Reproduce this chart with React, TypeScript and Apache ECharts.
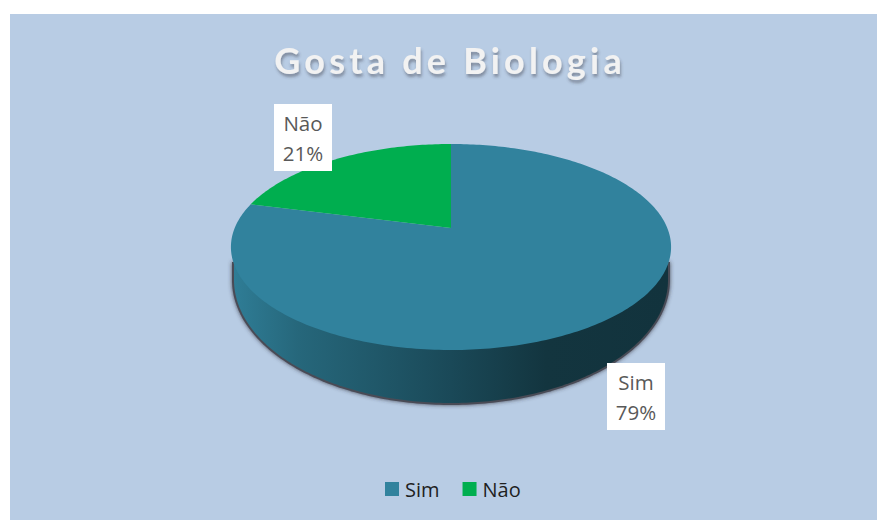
import React, { useEffect, useRef } from "react";
import * as echarts from "echarts";

const chartTitle = "Gosta de Biologia";
const categories = ["Sim", "Não"];
const values = [79, 21];
const colors = ["#31829D", "#00AE4F"];

const W = 877;
const H = 520;
const total = values.reduce((a, b) => a + b, 0);
const PAGE = { x: 10, y: 14 };

// Perspective disk: maps a point of the unit circle to the picture
const CX = 451;
const CY = 228;
const AX = 216.3;
const BY = 99.5;
const K = 0.1845;
const project = (angle: number): [number, number] => {
  const u = Math.sin(angle);
  const v = Math.cos(angle);
  const w = 1 + K * v;
  return [CX + (AX * u) / w, CY - (BY * v) / w];
};
const sliceOutline = (startFrac: number, endFrac: number) => {
  const steps = Math.max(8, Math.ceil((endFrac - startFrac) * 360));
  const pts: number[][] = [[CX, CY]];
  for (let i = 0; i <= steps; i++) {
    const f = startFrac + ((endFrac - startFrac) * i) / steps;
    pts.push(project(f * Math.PI * 2));
  }
  return pts;
};

// Lower rim of the disk's side wall
const rim = (a: number, b: number, cy: number, topY: number) => {
  const pts: number[][] = [[CX - a, topY]];
  for (let d = 180; d >= 0; d -= 1) {
    const t = (d * Math.PI) / 180;
    pts.push([CX + a * Math.cos(t), cy + b * Math.sin(t)]);
  }
  pts.push([CX + a, topY]);
  return pts;
};

const sideFill = new echarts.graphic.LinearGradient(
  233, 0, 668, 0,
  [
    { offset: 0, color: "#2F7D96" },
    { offset: 0.15, color: "#26677B" },
    { offset: 0.5, color: "#1A4958" },
    { offset: 0.72, color: "#13353F" },
    { offset: 1, color: "#12333D" },
  ],
  true
);

const labelAnchors = [
  { x: 636, y: 396.5 },
  { x: 303, y: 137.5 },
];

const labelFor = (i: number, value: number) => ({
  type: "text",
  z2: 10,
  style: {
    x: labelAnchors[i].x,
    y: labelAnchors[i].y,
    text: `${categories[i]}\n${Math.round((value / total) * 100)}%`,
    align: "center",
    verticalAlign: "middle",
    fontFamily: "'Open Sans'",
    fontSize: 20.5,
    lineHeight: 30,
    fill: "#595959",
    backgroundColor: "#FFFFFF",
    width: 58,
    height: 60,
    padding: [3.5, 0, 3.5, 0],
  },
});

const seriesFor = (i: number) => {
  const startFrac = values.slice(0, i).reduce((a, b) => a + b, 0) / total;
  return {
    type: "custom",
    name: categories[i],
    coordinateSystem: "none",
    silent: true,
    z: i === 0 ? 2 : 3,
    itemStyle: { color: colors[i] },
    data: [[values[i]]],
    renderItem: (_p: any, api: any) => {
      const value = api.value(0);
      const children: any[] = [];
      if (i === 0) {
        children.push({
          type: "polygon",
          shape: { points: rim(219, 125, 280, 262) },
          style: { fill: "#4A4B57", shadowBlur: 4, shadowColor: "rgba(50,50,60,0.85)" },
        });
        children.push({
          type: "polygon",
          shape: { points: rim(217, 123, 280, 250) },
          style: { fill: sideFill },
        });
      }
      children.push({
        type: "polygon",
        shape: { points: sliceOutline(startFrac, startFrac + value / total) },
        style: { fill: colors[i] },
      });
      children.push(labelFor(i, value));
      return { type: "group", children };
    },
  };
};

export default function App() {
  const ref = useRef<HTMLDivElement>(null);
  useEffect(() => {
    const chart = echarts.init(ref.current!, undefined, { renderer: "svg", width: W, height: H });
    chart.setOption({
      animation: false,
      backgroundColor: "#FFFFFF",
      title: {
        text: chartTitle,
        left: 445,
        top: 37,
        textAlign: "center",
        textStyle: {
          fontFamily: "Lato",
          fontSize: 36,
          fontWeight: "bold",
          color: "#F2F2F2",
          textShadowColor: "rgba(60,60,70,0.45)",
          textShadowBlur: 3,
          textShadowOffsetX: 1,
          textShadowOffsetY: 3,
        },
      },
      legend: {
        data: categories,
        left: 380,
        top: 474,
        icon: "rect",
        itemWidth: 14,
        itemHeight: 14,
        itemGap: 23,
        itemStyle: { borderWidth: 0 },
        textStyle: { fontFamily: "'Open Sans'", fontSize: 20, color: "#1F1F1F", padding: [0, 0, 0, 1] },
        selectedMode: false,
      },
      graphic: [
        {
          type: "rect",
          z: -10,
          silent: true,
          shape: { x: PAGE.x, y: PAGE.y, width: W - PAGE.x, height: H - PAGE.y },
          style: { fill: "#B8CCE4" },
        },
      ],
      series: categories.map((_, i) => seriesFor(i)),
    });
    ref.current!.querySelectorAll("text").forEach((t) => {
      if (t.textContent === chartTitle) (t as SVGTextElement).style.letterSpacing = "4.2px";
    });
    return () => chart.dispose();
  }, []);
  return <div ref={ref} style={{ position: "fixed", left: 0, top: 0, width: W, height: H }} />;
}
